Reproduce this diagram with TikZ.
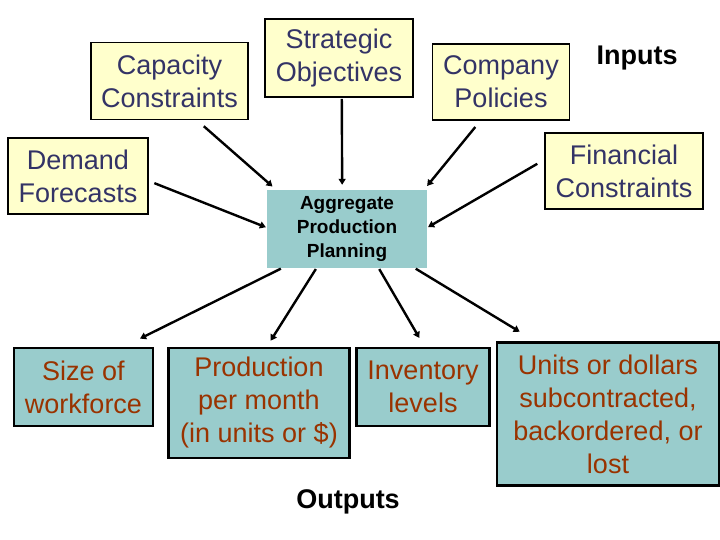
\documentclass[tikz,border=0pt]{standalone}
\usepackage{fontspec}
\setmainfont{Liberation Sans}
\usepackage{xcolor}
\usepackage{tikz}
\usetikzlibrary{shapes,arrows,arrows.meta,positioning,calc}
\definecolor{inputfill}{HTML}{FFFFCC}
\definecolor{planfill}{HTML}{99CCCC}
\definecolor{inputtext}{HTML}{333366}
\definecolor{outputtext}{HTML}{993300}

\begin{document}
\begin{tikzpicture}[
	%	style def
    x=1pt, y=-1pt,
    important line/.style={line width=2.4pt, -{Triangle[length=6pt,width=7pt]}},
    input box/.style={draw=black, line width=1.6pt, fill=inputfill, text=inputtext, align=center, inner sep=0pt, font=\fontsize{27}{33}\selectfont},
    output box/.style={draw=black, line width=2.8pt, fill=planfill, text=outputtext, align=center, inner sep=0pt, font=\fontsize{27}{33}\selectfont},
    plan box/.style={fill=planfill, text=black, align=center, inner sep=0pt, font=\bfseries\fontsize{19}{24}\selectfont},
    big label/.style={text=black, font=\bfseries\fontsize{27}{33}\selectfont}
    ]
    \useasboundingbox (0,0) rectangle (720,540);

	% inputs
    \node[input box, minimum width=157pt, minimum height=77pt] (cap) at (169.5,81) {Capacity\\Constraints};
    \node[input box, minimum width=148pt, minimum height=78pt] (strat) at (339,58) {Strategic\\Objectives};
    \node[input box, minimum width=137pt, minimum height=76pt] (comp) at (501,82) {Company\\Policies};
    \node[input box, minimum width=140pt, minimum height=76pt] (dem) at (78,176) {Demand\\Forecasts};
    \node[input box, minimum width=158pt, minimum height=76pt] (fin) at (624,171) {Financial\\Constraints};
    \node[big label] (inlabel) at (637,58) {Inputs};

    % planning box in the middle
    \node[plan box, minimum width=160pt, minimum height=78pt] (app) at (347,229) {Aggregate\\Production\\Planning};

    % outputs
    \node[output box, minimum width=139pt, minimum height=78pt] (size) at (83.5,387) {Size of\\workforce};
    \node[output box, minimum width=181pt, minimum height=110pt] (prod) at (259,403) {Production\\per month\\(in units or \$)};
    \node[output box, minimum width=133pt, minimum height=78pt] (inv) at (423,387) {Inventory\\levels};
    \node[output box, minimum width=222pt, minimum height=143pt] (units) at (608,414) {Units or dollars\\subcontracted,\\backordered, or\\lost};
    \node[big label] (outlabel) at (348,502) {Outputs};

    % arrows into the plan
    \draw[important line, shorten <=9pt, shorten >=5pt] (cap.-55) -- (app.151);
    \draw[important line, shorten <=1pt, shorten >=5pt] (strat.-86) -- (app.97);
    \draw[important line, shorten <=8pt, shorten >=5pt] (comp.-118) -- (app.27);
    \draw[important line, shorten <=6pt, shorten >=1pt] (dem.-4) -- (app.179);
    \draw[important line, shorten <=8pt, shorten >=1pt] (fin.172) -- (app.1);

    % arrows out of the plan
    \draw[important line, shorten <=1pt, shorten >=18pt] (app.-149) -- (size.45);
    \draw[important line, shorten <=1pt, shorten >=7pt] (app.-128) -- (prod.82);
    \draw[important line, shorten <=1pt, shorten >=10pt] (app.-51) -- (inv.88);
    \draw[important line, shorten <=1pt, shorten >=18pt] (app.-30) -- (units.135);

\end{tikzpicture}
\end{document}
